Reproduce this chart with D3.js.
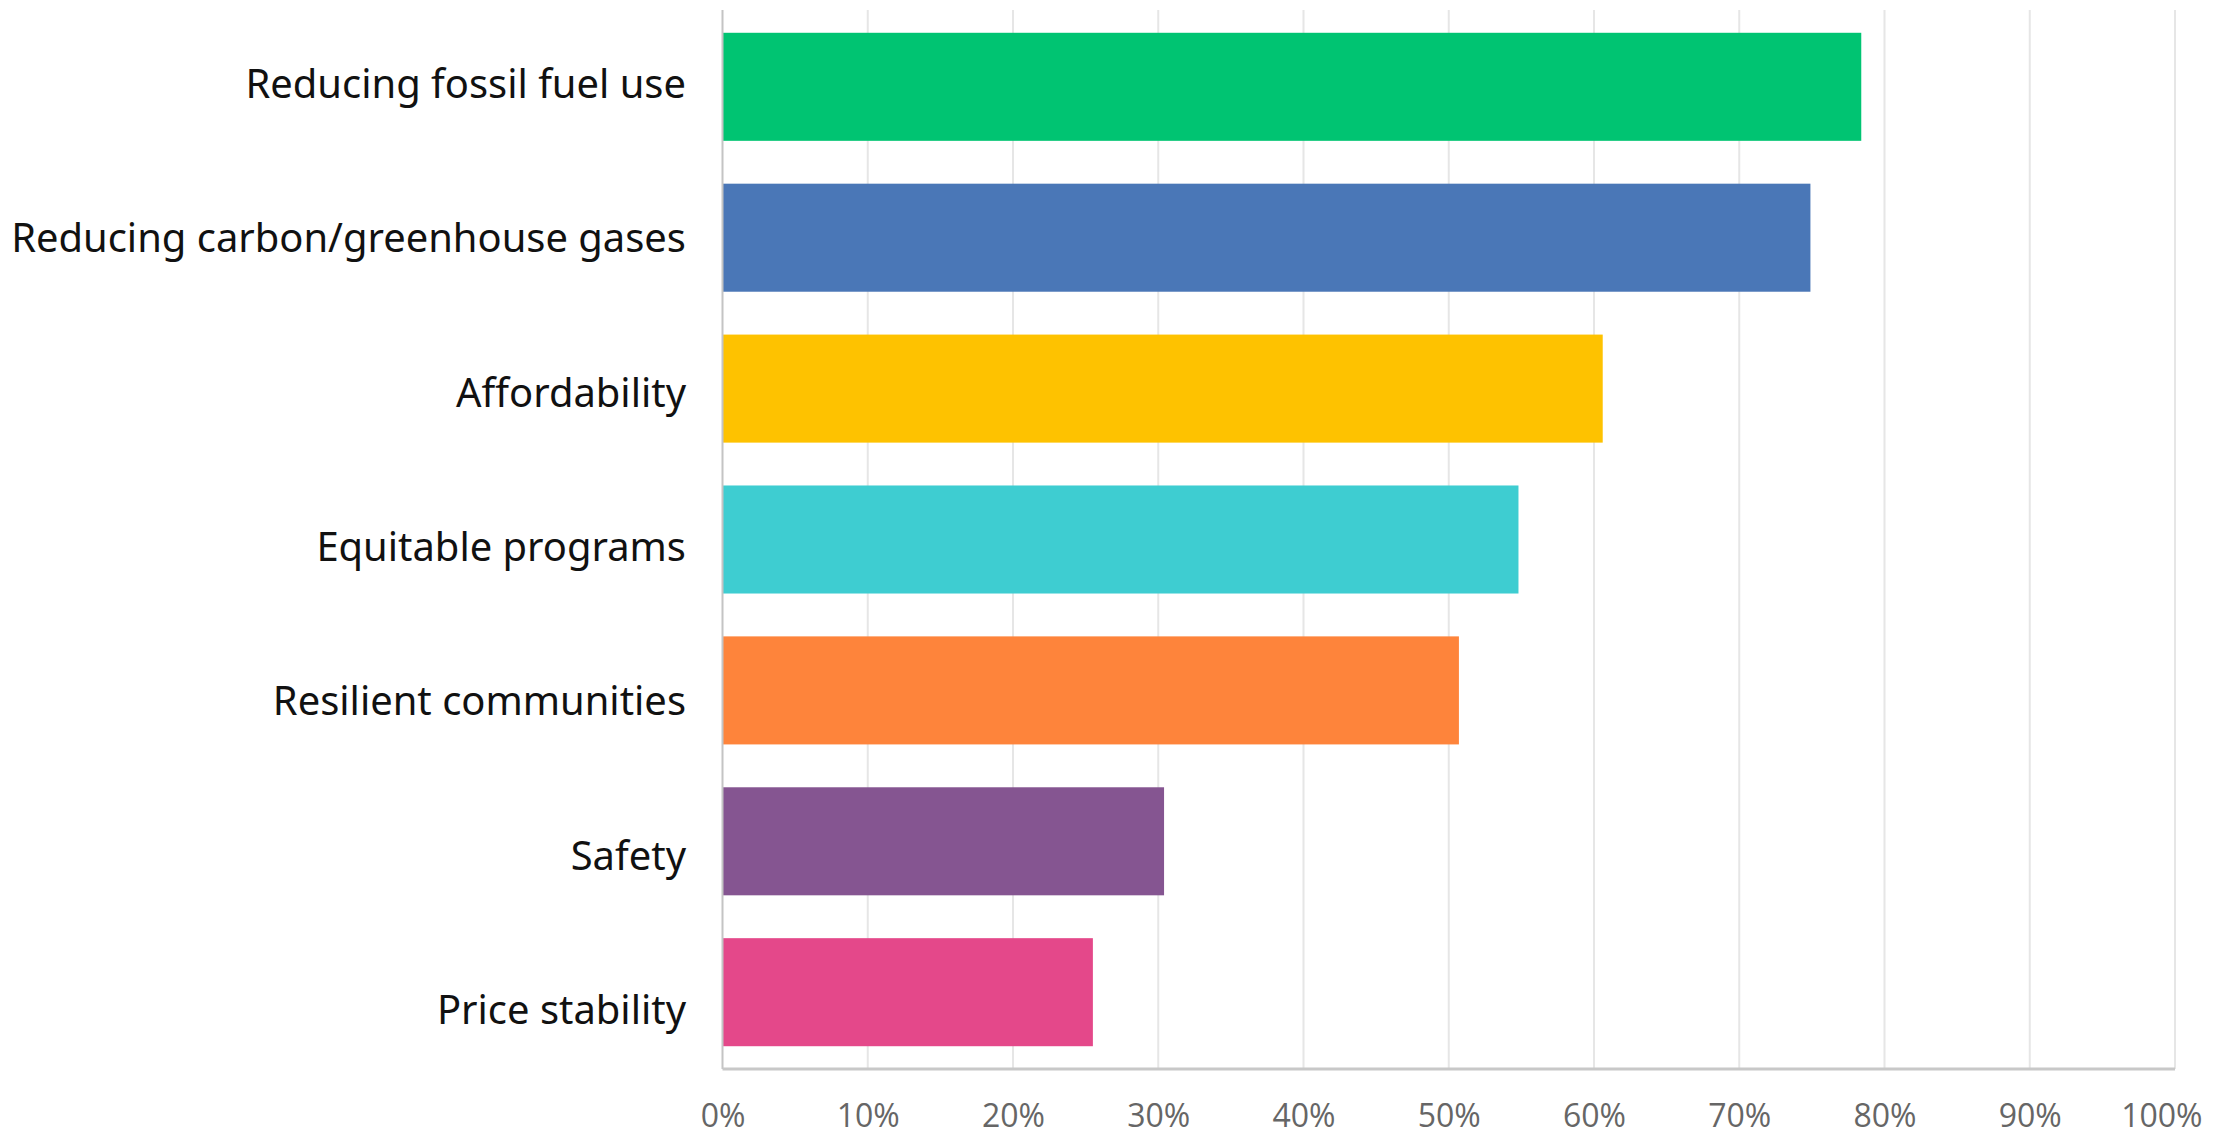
<!DOCTYPE html>
<html>
<head>
<meta charset="utf-8">
<script src="https://cdn.jsdelivr.net/npm/d3@7"></script>
<style>
  html, body { margin: 0; padding: 0; background: #ffffff; }
  svg { display: block; }
</style>
</head>
<body>
<svg id="chart" width="2228" height="1137"></svg>
<script>
// ---- data ----
const categories = [
  "Reducing fossil fuel use",
  "Reducing carbon/greenhouse gases",
  "Affordability",
  "Equitable programs",
  "Resilient communities",
  "Safety",
  "Price stability"
];
const values = [78.4, 74.9, 60.6, 54.8, 50.7, 30.4, 25.5];
const colors = ["#00c472", "#4a77b7", "#fec200", "#3ecdd1", "#fe843b", "#855591", "#e4488a"];
const tickValues = [0, 10, 20, 30, 40, 50, 60, 70, 80, 90, 100];
const tickLabels = ["0%", "10%", "20%", "30%", "40%", "50%", "60%", "70%", "80%", "90%", "100%"];

// ---- layout ----
const svg = d3.select("#chart");
const plotLeft = 722.5, plotRight = 2175, plotTop = 10, plotBottom = 1069;

const x = d3.scaleLinear().domain([0, 100]).range([plotLeft, plotRight]);
const y = d3.scaleBand().domain(categories).range([plotTop, plotBottom])
  .paddingInner(0.284).paddingOuter(0.151);
// category labels are spaced on their own band
const yLabel = d3.scalePoint().domain(categories).range([84, 1010]);

// gridlines
svg.append("g").selectAll("line").data(tickValues.slice(1)).join("line")
  .attr("x1", d => x(d)).attr("x2", d => x(d))
  .attr("y1", plotTop).attr("y2", plotBottom)
  .attr("stroke", "#e6e6e6").attr("stroke-width", 2);

// bars
svg.append("g").selectAll("rect").data(categories).join("rect")
  .attr("x", x(0))
  .attr("y", d => y(d))
  .attr("width", (d, i) => x(values[i]) - x(0))
  .attr("height", y.bandwidth())
  .attr("fill", (d, i) => colors[i]);

// axis lines
svg.append("line")
  .attr("x1", plotLeft).attr("x2", plotLeft)
  .attr("y1", plotTop).attr("y2", plotBottom)
  .attr("stroke", "#c4c4c4").attr("stroke-width", 2);
svg.append("line")
  .attr("x1", plotLeft).attr("x2", plotRight)
  .attr("y1", plotBottom).attr("y2", plotBottom)
  .attr("stroke", "#c8c8c8").attr("stroke-width", 3);

// x tick labels
const xAxis = d3.axisBottom(x).tickValues(tickValues)
  .tickFormat((d, i) => tickLabels[i]).tickSize(0).tickPadding(0);
const gx = svg.append("g").attr("transform", `translate(0,${plotBottom})`).call(xAxis);
gx.select(".domain").remove();
gx.selectAll("text")
  .attr("y", 58).attr("dy", 0)
  .attr("fill", "#666666")
  .style("font-family", "'Open Sans', sans-serif")
  .style("font-size", "32px");
// last label kept inside the plot edge
gx.selectAll(".tick").filter(d => d === 100).select("text")
  .attr("text-anchor", "end").attr("x", 27);

// category labels
const labels = svg.append("g").selectAll("text").data(categories).join("text")
  .attr("x", 686)
  .attr("y", d => yLabel(d))
  .attr("dy", "0.35em")
  .attr("text-anchor", "end")
  .attr("fill", "#111111")
  .style("font-family", "'Noto Sans', sans-serif")
  .style("font-size", "30px")
  .text(d => d);
// fit label font size to the reference width of the longest label
let maxW = 0;
labels.each(function() { maxW = Math.max(maxW, this.getComputedTextLength()); });
const fs = 30 * 675 / maxW;
labels.style("font-size", fs + "px");
</script>
</body>
</html>
